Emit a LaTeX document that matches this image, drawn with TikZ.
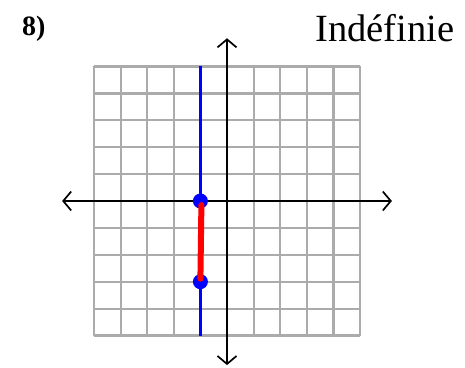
\documentclass[tikz,border=0pt]{standalone}
\usepackage{fontspec}
\setmainfont{Liberation Serif}
\usetikzlibrary{arrows.meta}
\begin{document}
\begin{tikzpicture}[x=26.6pt,y=26.9pt,
  gridline/.style={draw=black!33,line width=2.2pt},
  axis/.style={draw=black,line width=1.6pt,-{Straight Barb[length=8pt,width=19pt,line width=1.7pt]}},
  vline/.style={draw=blue,line width=2.2pt},
  dot/.style={circle,fill=blue,draw=none,minimum size=15pt,inner sep=0pt},
  seg/.style={draw=red,line width=6pt,line cap=round}]
\useasboundingbox (-8.534,-6.171) rectangle (8.947,7.472);
\draw[gridline] (-5,-5) grid[step={(1,1)}] (5,5);
\coordinate (vt) at (-1,5);
\coordinate (vb) at (-1,-5);
\draw[vline] (vt) -- (vb);
\coordinate (o) at (0,0);
\coordinate (xl) at (-6.2,0);
\coordinate (xr) at (6.2,0);
\coordinate (yt) at (0,6.05);
\coordinate (yb) at (0,-6.1);
\draw[axis] (o) -- (xl);
\draw[axis] (o) -- (xr);
\draw[axis] (o) -- (yt);
\draw[axis] (o) -- (yb);
\node[dot] (p1) at (-1,0) {};
\node[dot] (p2) at (-1,-3) {};
\draw[seg] ([xshift=1pt,yshift=-4pt]p1.center) -- ([yshift=3pt]p2.center);
\node[anchor=base west,inner sep=0pt,font=\fontsize{38.5}{44}\selectfont] (title) at (3.308,5.911) {Indéfinie};
\node[anchor=base west,inner sep=0pt,font=\bfseries\fontsize{28}{32}\selectfont] (num) at (-7.707,6.152) {8)};
\end{tikzpicture}
\end{document}
